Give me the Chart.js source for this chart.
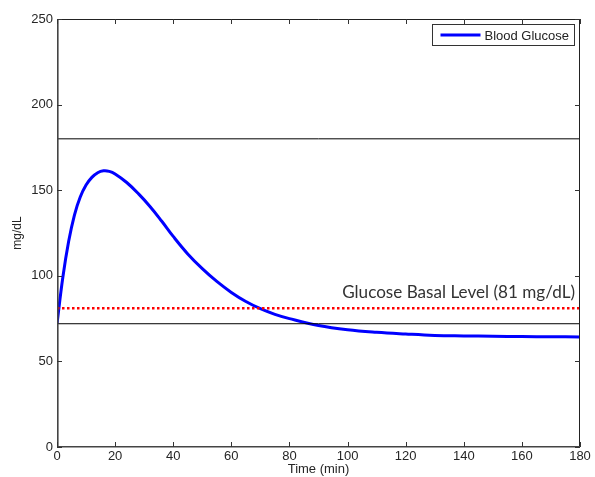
<!DOCTYPE html>
<html>
<head>
<meta charset="utf-8">
<script src="https://cdn.jsdelivr.net/npm/chart.js@4.4.1/dist/chart.umd.min.js"></script>
<style>
  html, body { margin: 0; padding: 0; background: #fff; }
  #wrap { width: 595px; height: 477px; }
</style>
</head>
<body>
<div id="wrap"><canvas id="chart" width="595" height="477"></canvas></div>
<script>
// time axis (min) and blood glucose (mg/dL)
const timeMin = [0, 2, 4, 6, 8, 10, 12, 14, 16, 18, 20, 24, 28, 32, 36, 40, 45, 50, 55, 60, 65, 70, 75, 80, 90, 100, 110, 120, 130, 140, 150, 160, 170, 180];
const glucose = [72, 99, 120, 135.5, 146, 153, 157.5, 160.2, 161.3, 161, 159.5, 154.5, 148, 140.5, 132, 123, 112.8, 104.2, 96.7, 90.3, 85, 80.8, 77.5, 75, 71, 68.5, 67, 66, 65.2, 64.9, 64.7, 64.5, 64.4, 64.3];

// reference levels
const upperLimit = 180;
const lowerLimit = 72;
const basalLevel = 81;
const xRange = [0, 180];

const xTicks = [0, 20, 40, 60, 80, 100, 120, 140, 160, 180];
const yTicks = [0, 50, 100, 150, 200, 250];

const seriesLabel = "Blood Glucose";
const basalText = "Glucose Basal Level (81 mg/dL)";

const flat = (v) => xRange.map((x) => ({ x: x, y: v }));

// MATLAB-like box with inward ticks, legend and the basal label
const matlabFrame = {
  id: "matlabFrame",
  afterDraw(chart) {
    const ctx = chart.ctx;
    const { left, right, top, bottom } = chart.chartArea;
    const xs = chart.scales.x;
    const ys = chart.scales.y;
    const tick = 5;

    ctx.save();
    // top and right edges: thin black
    ctx.strokeStyle = "#222";
    ctx.lineWidth = 1;
    ctx.beginPath();
    ctx.moveTo(left, top + 0.5); ctx.lineTo(right - 0.5, top + 0.5); ctx.lineTo(right - 0.5, bottom);
    ctx.stroke();
    // left and bottom axes: a bit heavier grey
    ctx.strokeStyle = "#444";
    ctx.lineWidth = 1.6;
    ctx.beginPath();
    ctx.moveTo(left + 0.8, top); ctx.lineTo(left + 0.8, bottom - 0.3); ctx.lineTo(right, bottom - 0.3);
    ctx.stroke();

    ctx.strokeStyle = "#333";
    ctx.lineWidth = 1;
    ctx.beginPath();
    xTicks.forEach((v) => {
      const px = Math.round(xs.getPixelForValue(v)) + 0.5;
      ctx.moveTo(px, bottom); ctx.lineTo(px, bottom - tick);
      ctx.moveTo(px, top); ctx.lineTo(px, top + tick);
    });
    yTicks.forEach((v) => {
      const py = Math.round(ys.getPixelForValue(v)) + 0.5;
      ctx.moveTo(left, py); ctx.lineTo(left + tick, py);
      ctx.moveTo(right, py); ctx.lineTo(right - tick, py);
    });
    ctx.stroke();

    // basal level label
    ctx.fillStyle = "#333";
    ctx.font = "15px Lato, 'Open Sans', sans-serif";
    const w = ctx.measureText(basalText).width;
    const size = 15 * 233 / w;
    ctx.font = size.toFixed(2) + "px Lato, 'Open Sans', sans-serif";
    ctx.textAlign = "right";
    ctx.textBaseline = "alphabetic";
    ctx.fillText(basalText, right - 5, ys.getPixelForValue(basalLevel) - 10);

    // legend box
    const lx = 432.5, ly = 24.5, lw = 142, lh = 21;
    ctx.fillStyle = "#fff";
    ctx.fillRect(lx, ly, lw, lh);
    ctx.strokeStyle = "#333";
    ctx.strokeRect(lx, ly, lw, lh);
    ctx.strokeStyle = "#0000ff";
    ctx.lineWidth = 3;
    ctx.beginPath();
    ctx.moveTo(lx + 8, ly + lh / 2);
    ctx.lineTo(lx + 48, ly + lh / 2);
    ctx.stroke();
    ctx.fillStyle = "#222";
    ctx.font = "13px 'Liberation Sans', Arial, sans-serif";
    ctx.textAlign = "left";
    ctx.textBaseline = "middle";
    ctx.fillText(seriesLabel, lx + 52, ly + lh / 2 + 1);
    ctx.restore();
  }
};

const tickFont = { family: "'Liberation Sans', Arial, sans-serif", size: 13 };

new Chart(document.getElementById("chart"), {
  type: "line",
  data: {
    datasets: [
      {
        label: "upper",
        data: flat(upperLimit),
        borderColor: "#000",
        borderWidth: 1,
        pointRadius: 0,
      },
      {
        label: "lower",
        data: flat(lowerLimit),
        borderColor: "#000",
        borderWidth: 1,
        pointRadius: 0,
      },
      {
        label: "basal",
        data: flat(basalLevel),
        borderColor: "#ff0000",
        borderWidth: 2.5,
        borderDash: [2.5, 2.5],
        pointRadius: 0,
      },
      {
        label: seriesLabel,
        data: timeMin.map((t, i) => ({ x: t, y: glucose[i] })),
        borderColor: "#0000ff",
        borderWidth: 3,
        pointRadius: 0,
        tension: 0.4,
      },
    ],
  },
  options: {
    responsive: false,
    animation: false,
    layout: { padding: { left: 0, top: 19, right: 15, bottom: 0 } },
    scales: {
      x: {
        type: "linear",
        min: xRange[0],
        max: xRange[1],
        afterFit: (s) => { s.height = 30; },
        afterBuildTicks: (s) => { s.ticks = xTicks.map((v) => ({ value: v })); },
        ticks: { color: "#262626", font: tickFont, padding: 2, maxRotation: 0 },
        grid: { display: false, drawTicks: false },
        border: { display: false },
        title: {
          display: true,
          text: "Time (min)",
          color: "#262626",
          font: tickFont,
          padding: { top: 0, bottom: 0 },
        },
      },
      y: {
        min: 0,
        max: 250,
        afterFit: (s) => { s.width = 57; },
        afterBuildTicks: (s) => { s.ticks = yTicks.map((v) => ({ value: v })); },
        ticks: { color: "#262626", font: tickFont, padding: 4 },
        grid: { display: false, drawTicks: false },
        border: { display: false },
        title: {
          display: true,
          text: "mg/dL",
          color: "#262626",
          font: { family: "'Liberation Sans', Arial, sans-serif", size: 12 },
          padding: { top: 10, bottom: 0 },
        },
      },
    },
    plugins: {
      legend: { display: false },
      tooltip: { enabled: false },
    },
  },
  plugins: [matlabFrame],
});
</script>
</body>
</html>
